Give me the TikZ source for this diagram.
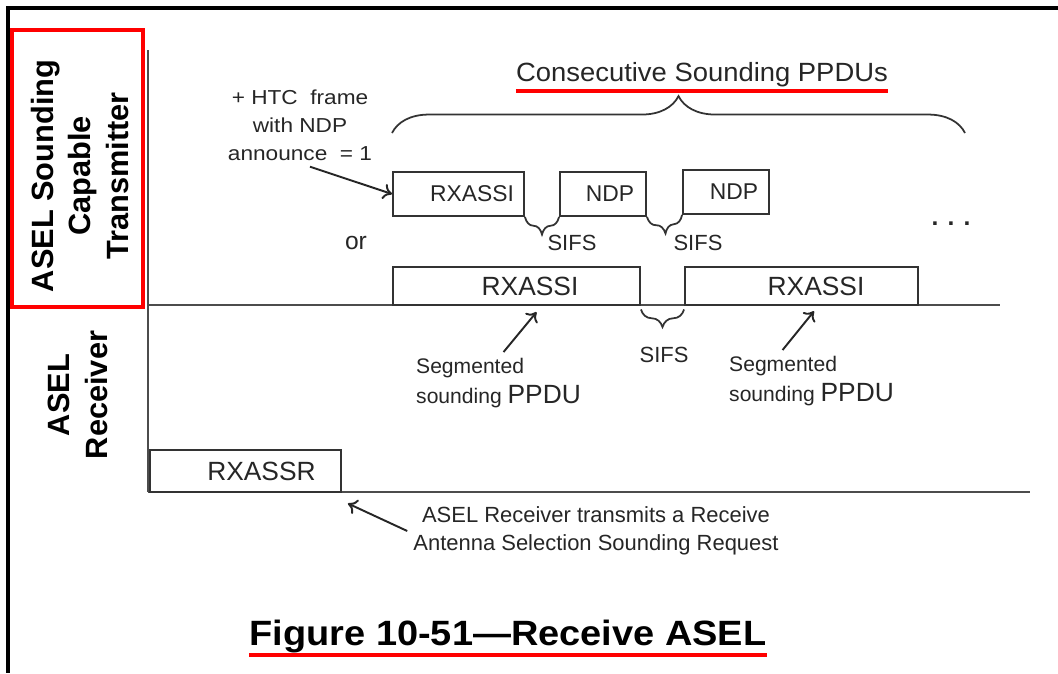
\documentclass[tikz,border=0pt]{standalone}
\usepackage{fontspec}
\setmainfont{Liberation Sans}
\usetikzlibrary{arrows.meta,decorations.pathreplacing,positioning}

\begin{document}
\begin{tikzpicture}[x=0.02cm,y=-0.02cm,
    every node/.style={text=black!85},
    pkt/.style={draw=black!80,line width=1.1pt,inner sep=0pt},
    lane/.style={draw=black!70,line width=1.1pt},
    redline/.style={draw=red,line width=2.2pt},
    sifsbrace/.style={decorate,decoration={brace,mirror,amplitude=10pt},draw=black!80,line width=1pt},
    bigbrace/.style={decorate,decoration={brace,amplitude=21pt},draw=black!80,line width=1pt},
    pointer/.style={-{To[length=5pt,width=9pt]},draw=black!85,line width=1.1pt},
    side/.style={rotate=90,align=center,text=black,font=\bfseries\fontsize{17.5}{21.6}\selectfont}]
      \useasboundingbox (0,0) rectangle (1058,673);
      \draw[line width=1.8pt] (1058,8) -- (8,8) -- (8,673);

      % lanes
      \coordinate (axtop) at (148,50);
      \coordinate (txl) at (148,305);
      \coordinate (txr) at (1000,305);
      \coordinate (rxl) at (148,492);
      \coordinate (rxr) at (1030,492);
      \draw[lane] (axtop) -- (rxl);
      \draw[lane] (txl) -- (txr);
      \draw[lane] (rxl) -- (rxr);

      % lane names
      \node[side] (txname) at (80,176) {ASEL Sounding\\Capable\\Transmitter};
      \node[draw=red,line width=2.3pt,minimum width=2.62cm,minimum height=5.54cm] (txframe) at (77.5,168.5) {};
      \node[side] (rxname) at (78,395) {ASEL\\Receiver};

      % frames (labels sit a little right of centre)
      \node[pkt,minimum width=3.82cm,minimum height=0.84cm,font=\fontsize{15}{18}\selectfont] (rxassr) at (245.5,471) {\hspace*{0.64cm}RXASSR};
      \node[pkt,minimum width=2.62cm,minimum height=0.88cm,font=\fontsize{13}{16}\selectfont] (rxa) at (458.5,194) {\hspace*{0.54cm}RXASSI};
      \node[pkt,minimum width=1.72cm,minimum height=0.88cm,font=\fontsize{13}{16}\selectfont] (ndpa) at (603,194) {\hspace*{0.28cm}NDP};
      \node[pkt,minimum width=1.72cm,minimum height=0.88cm,font=\fontsize{13}{16}\selectfont] (ndpb) at (726,192) {\hspace*{0.32cm}NDP};
      \node[pkt,minimum width=4.94cm,minimum height=0.76cm,font=\fontsize{15}{18}\selectfont] (sega) at (516.5,286) {\hspace*{0.54cm}RXASSI};
      \node[pkt,minimum width=4.66cm,minimum height=0.76cm,font=\fontsize{15}{18}\selectfont] (segb) at (801.5,286) {\hspace*{0.58cm}RXASSI};

      % texts
      \node[font=\fontsize{14}{16}\selectfont] (or) at (356,243) {or};
      \node[font=\bfseries\fontsize{14}{16}\selectfont] (more) at (951,224) {. . .};
      \node[align=center,font=\fontsize{11.5}{16}\selectfont,xscale=1.12] (htc) at (300,125) {+ HTC\ \ frame\\with NDP\\announce\ \ = 1};
      \node[font=\fontsize{12.5}{15}\selectfont] (sifsa) at (572,243) {SIFS};
      \node[font=\fontsize{12.5}{15}\selectfont] (sifsb) at (698,243) {SIFS};
      \node[font=\fontsize{12.5}{15}\selectfont] (sifsc) at (664,355) {SIFS};
      \node[align=left,anchor=west,font=\fontsize{12}{17}\selectfont] (seglabela) at (410,383) {Segmented\\sounding {\fontsize{15}{17}\selectfont PPDU}};
      \node[align=left,anchor=west,font=\fontsize{12}{17}\selectfont] (seglabelb) at (723,381) {Segmented\\sounding {\fontsize{15}{17}\selectfont PPDU}};
      \node[align=center,font=\fontsize{12.5}{16}\selectfont] (reqlabel) at (596,531) {ASEL Receiver transmits a Receive\\Antenna Selection Sounding Request};
      \node[inner sep=0pt,xscale=1.04,font=\fontsize{15}{18}\selectfont] (conseq) at (702,75) {Consecutive Sounding PPDUs};
      \node[inner sep=0pt,xscale=1.08,text=black,font=\bfseries\fontsize{20}{24}\selectfont] (caption) at (508,636) {Figure 10-51—Receive ASEL};
      \draw[redline] ([yshift=-5pt]conseq.base west) -- ([yshift=-5pt]conseq.base east);
      \draw[redline] ([yshift=-5.5pt]caption.base west) -- ([yshift=-5.5pt]caption.base east);

      % braces
      \coordinate (csa) at (392,133);
      \coordinate (csb) at (965,133);
      \draw[bigbrace] (csa) -- (csb);
      \draw[sifsbrace] (rxa.south east) -- (ndpa.south west);
      \draw[sifsbrace] (ndpa.south east) -- (ndpb.south west);
      \draw[sifsbrace] ([yshift=-2pt]sega.south east) -- ([yshift=-2pt]segb.south west);

      \begin{scope}[pointer]
        \draw ([xshift=0.2cm]htc.south) to (rxa.west);
        \draw ([xshift=0.1cm]seglabela.north) to ([xshift=0.4cm,yshift=-3.5pt]sega.south);
        \draw ([xshift=-0.58cm]seglabelb.north) to ([xshift=0.25cm,yshift=-3pt]segb.south);
        \draw (reqlabel.west) to ([xshift=0.12cm,yshift=-6pt]rxassr.south east);
      \end{scope}
    \end{tikzpicture}
\end{document}
